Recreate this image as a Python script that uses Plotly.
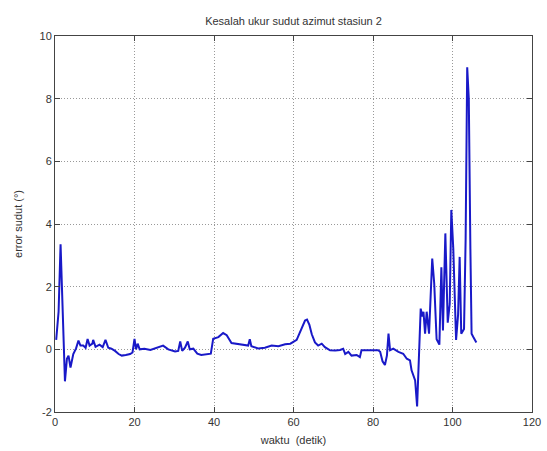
import plotly.graph_objects as go

# Azimuth angle measurement error at station 2, sampled over time (seconds)
waktu = [0.3, 0.9, 1.4, 1.7, 2.0, 2.5, 3.0, 3.4, 3.9, 4.6, 5.3, 5.9, 6.4, 7.1, 7.7,
         8.2, 8.7, 9.4, 9.6, 10.2, 11.2, 12.0, 12.7, 13.4, 14.2, 15.1, 16.0, 16.8,
         17.8, 18.9, 19.5, 20.0, 20.4, 20.8, 21.3, 22.5, 24.0, 25.6, 27.2, 28.5,
         30.2, 31.0, 31.5, 32.0, 32.7, 33.4, 33.9, 34.8, 35.8, 36.8, 38.0, 39.2,
         39.8, 41.1, 42.3, 43.2, 44.4, 46.1, 47.8, 48.6, 49.0, 49.4, 51.1, 52.8,
         54.5, 56.2, 57.9, 59.2, 60.8, 62.1, 62.9, 63.4, 64.0, 64.6, 65.4, 66.2,
         67.1, 67.9, 69.2, 70.5, 71.7, 72.5, 73.0, 73.8, 74.6, 75.9, 76.7, 77.1,
         78.4, 80.0, 81.3, 81.8, 82.4, 83.0, 83.5, 83.9, 84.3, 85.1, 86.4, 87.6,
         88.5, 89.3, 89.7, 90.6, 91.1, 91.6, 92.0, 92.4, 92.7, 93.1, 93.5, 94.1,
         94.9, 95.4, 96.0, 96.7, 97.2, 97.6, 98.2, 98.8, 99.3, 99.7, 100.2, 100.9,
         101.4, 101.8, 102.2, 102.9, 103.3, 103.7, 104.1, 104.5, 104.8, 105.2, 106.0]

error_sudut = [0.3, 1.2, 3.35, 2.2, 0.6, -1.02, -0.3, -0.2, -0.58, -0.15, 0.03, 0.28,
               0.12, 0.12, 0.05, 0.33, 0.12, 0.18, 0.3, 0.08, 0.15, 0.07, 0.3, 0.05,
               0.02, -0.05, -0.15, -0.2, -0.18, -0.15, -0.1, 0.33, 0.0, 0.18, 0.0,
               0.02, -0.02, 0.05, 0.12, 0.0, -0.07, -0.05, 0.25, -0.05, 0.05, 0.25,
               0.0, 0.02, -0.14, -0.18, -0.15, -0.14, 0.34, 0.39, 0.52, 0.45, 0.2,
               0.16, 0.13, 0.12, 0.32, 0.1, 0.03, 0.05, 0.12, 0.1, 0.16, 0.18, 0.3,
               0.65, 0.92, 0.95, 0.78, 0.48, 0.22, 0.12, 0.18, 0.07, -0.03, -0.04,
               -0.02, 0.02, -0.15, -0.08, -0.2, -0.18, -0.25, -0.03, -0.02, -0.03,
               -0.03, -0.08, -0.38, -0.5, -0.2, 0.5, -0.03, 0.02, -0.08, -0.14, -0.3,
               -0.35, -0.67, -0.99, -1.82, -0.03, 1.3, 1.05, 1.2, 0.5, 1.2, 0.5, 2.9,
               2.1, 0.32, 0.15, 2.62, 0.6, 3.7, 0.85, 1.45, 4.45, 3.2, 0.3, 1.1, 2.95,
               0.5, 0.65, 3.5, 9.0, 8.0, 3.2, 0.5, 0.4, 0.22]

x_ticks = [0, 20, 40, 60, 80, 100, 120]
y_ticks = [-2, 0, 2, 4, 6, 8, 10]

font_family = "Liberation Sans, Arial, sans-serif"

fig = go.Figure(
    go.Scatter(
        x=waktu,
        y=error_sudut,
        mode="lines",
        line=dict(color="rgb(25,25,200)", width=2),
        showlegend=False,
    )
)

axis_common = dict(
    showline=True,
    linecolor="#444444",
    linewidth=1,
    mirror="allticks",
    ticks="inside",
    ticklen=5,
    tickcolor="#444444",
    showgrid=True,
    gridcolor="#999999",
    griddash="1px,2px",
    gridwidth=1,
    zeroline=False,
    automargin=False,
    tickfont=dict(family=font_family, size=11, color="#333333"),
)

fig.update_xaxes(
    range=[0, 120],
    tickvals=x_ticks,
    ticktext=[str(v) for v in x_ticks],
    title=dict(text="waktu  (detik)", standoff=9,
               font=dict(family=font_family, size=11, color="#333333")),
    **axis_common,
)
fig.update_yaxes(
    range=[-2, 10],
    tickvals=y_ticks,
    ticktext=[str(v) for v in y_ticks],
    title=dict(text="error sudut (°)", standoff=14,
               font=dict(family=font_family, size=11, color="#333333")),
    **axis_common,
)

fig.update_layout(
    width=547,
    height=451,
    margin=dict(l=55, r=15, t=36, b=39),
    paper_bgcolor="white",
    plot_bgcolor="white",
    title=dict(
        text="Kesalah ukur sudut azimut stasiun 2",
        font=dict(family=font_family, size=11, color="#333333"),
        x=0.5, xref="paper", xanchor="center",
        y=1 - 21 / 451, yref="container", yanchor="middle",
    ),
)

fig.write_html("out.html")
